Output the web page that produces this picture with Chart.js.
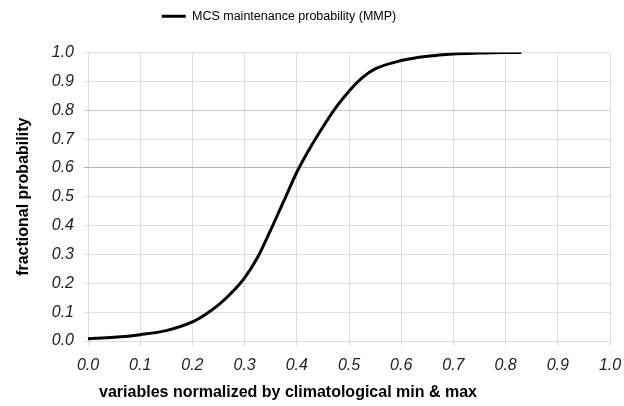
<!DOCTYPE html>
<html>
<head>
<meta charset="utf-8">
<script src="https://cdn.jsdelivr.net/npm/chart.js@4/dist/chart.umd.min.js"></script>
<style>
  html, body { margin: 0; padding: 0; background: #fff; }
  #wrap { width: 624px; height: 406px; }
</style>
</head>
<body>
<div id="wrap"><canvas id="c" width="624" height="406"></canvas></div>
<script>
const seriesLabel = 'MCS maintenance probability (MMP)';
const xValues = [0, 0.05, 0.1, 0.15, 0.2, 0.225, 0.25, 0.275, 0.3, 0.325, 0.35, 0.375, 0.4, 0.425, 0.45, 0.475, 0.5, 0.525, 0.55, 0.6, 0.65, 0.7, 0.75, 0.8, 0.83];
const mmpValues = [0.008, 0.013, 0.022, 0.036, 0.066, 0.092, 0.125, 0.167, 0.219, 0.29, 0.385, 0.485, 0.585, 0.668, 0.742, 0.81, 0.866, 0.912, 0.943, 0.972, 0.987, 0.995, 0.998, 1.0, 1.0];
const xTitle = 'variables normalized by climatological min & max';
const yTitle = 'fractional probability';

const points = xValues.map((x, i) => ({ x: x, y: mmpValues[i] }));

const legendPatchPlugin = {
  id: 'legendPatch',
  beforeLayout(chart) {
    const lg = chart.legend;
    if (lg && !lg._patched) {
      const origFit = lg.fit;
      lg.fit = function () { origFit.call(this); this.height += 20; };
      const origDraw = lg.draw;
      lg.draw = function () {
        const ctx = this.ctx;
        ctx.save();
        ctx.translate(-26, 0);
        origDraw.apply(this, arguments);
        ctx.restore();
      };
      lg._patched = true;
    }
  }
};

const xTitlePlugin = {
  id: 'xTitlePlugin',
  afterDraw(chart) {
    const ctx = chart.ctx;
    ctx.save();
    ctx.font = 'bold 16px "Liberation Sans", Arial, sans-serif';
    ctx.fillStyle = '#000';
    ctx.textAlign = 'center';
    ctx.textBaseline = 'middle';
    ctx.fillText(xTitle, 288, 393);
    ctx.restore();
  }
};

new Chart(document.getElementById('c'), {
  type: 'line',
  data: {
    datasets: [{
      label: seriesLabel,
      data: points,
      borderColor: '#000',
      backgroundColor: '#000',
      borderWidth: 3,
      pointRadius: 0,
      pointStyle: 'line',
      cubicInterpolationMode: 'monotone',
      fill: false
    }]
  },
  options: {
    responsive: false,
    animation: false,
    layout: { padding: { top: 2, right: 14, left: 0, bottom: 0 } },
    plugins: {
      legend: {
        display: true,
        position: 'top',
        labels: {
          usePointStyle: true,
          pointStyleWidth: 24,
          color: '#000',
          font: { family: '"Liberation Sans", Arial, sans-serif', size: 12.5 },
          padding: 8
        }
      },
      tooltip: { enabled: false }
    },
    scales: {
      x: {
        type: 'linear',
        min: 0, max: 1,
        ticks: {
          stepSize: 0.1,
          color: '#222',
          padding: 10,
          font: { family: '"Liberation Sans", Arial, sans-serif', size: 16, style: 'italic' },
          callback: v => v.toFixed(1)
        },
        grid: { color: '#dedede', tickLength: 5, lineWidth: 1 },
        border: { display: false },
        afterFit(s) { s.height = 65; s.paddingRight = 4; s.paddingLeft = 4; }
      },
      y: {
        type: 'linear',
        min: 0, max: 1,
        ticks: {
          stepSize: 0.1,
          color: '#222',
          padding: 10,
          font: { family: '"Liberation Sans", Arial, sans-serif', size: 16, style: 'italic' },
          callback: v => v.toFixed(1)
        },
        grid: {
          color: ctx => {
            const v = ctx.tick ? Math.round(ctx.tick.value * 10) : -1;
            if (v === 6) return '#b4b4b4';
            if (v === 8) return '#cccccc';
            return '#dedede';
          },
          tickLength: 4,
          lineWidth: 1
        },
        border: { display: false },
        title: {
          display: true,
          text: yTitle,
          color: '#000',
          font: { family: '"Liberation Sans", Arial, sans-serif', size: 16, weight: 'bold' },
          padding: { top: 14, bottom: 0 }
        },
        afterFit(s) { s.width = 88; }
      }
    }
  },
  plugins: [legendPatchPlugin, xTitlePlugin]
});
</script>
</body>
</html>
